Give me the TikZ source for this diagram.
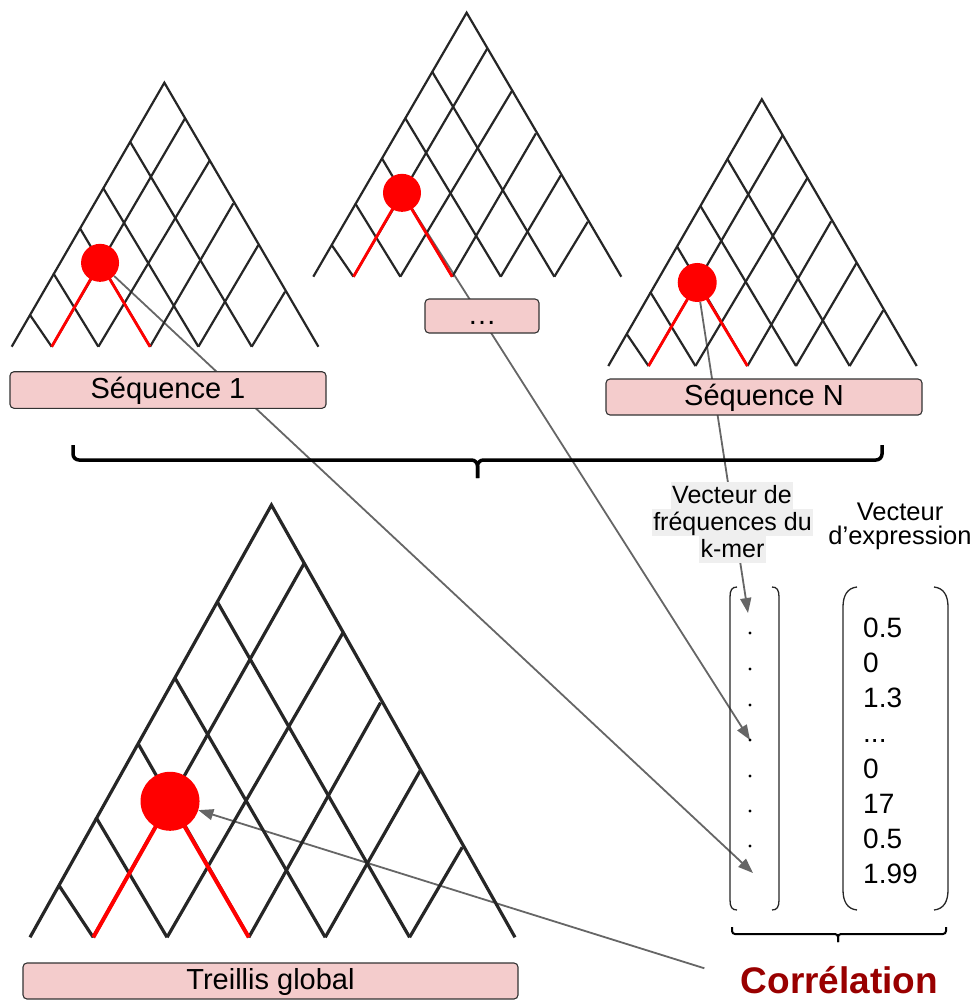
\documentclass[tikz,border=0pt]{standalone}
\usepackage{fontspec}
\setmainfont{Liberation Sans}
\usetikzlibrary{arrows.meta}
\pgfdeclarelayer{back}
\pgfsetlayers{back,main}
\definecolor{boxpink}{HTML}{F4CCCC}
\definecolor{labelgray}{HTML}{EFEFEF}
\definecolor{conngray}{HTML}{666666}
\definecolor{corrred}{HTML}{990000}
\definecolor{latblack}{HTML}{262626}
\newcommand{\drawlattice}[8]{%
\begin{scope}[shift={(#2,#3)}, xscale=#4, yscale=-#5]
 \draw[line width=#6, latblack] (0,0) -- (0.4978,1) -- (1,0);
 \draw[line width=#6, latblack] (0.3859,0.7765) -- (0.7826,0);
 \draw[line width=#6, latblack] (0.2989,0.5997) -- (0.6087,0);
 \draw[line width=#6, latblack] (0.2228,0.4482) -- (0.4511,0);
 \draw[line width=#6, latblack] (0.1359,0.2778) -- (0.2826,0);
 \draw[line width=#6, latblack] (0.0598,0.1199) -- (0.1304,0);
 \draw[line width=#6, latblack] (0.5652,0.8649) -- (0.1304,0);
 \draw[line width=#6, latblack] (0.6467,0.7071) -- (0.2826,0);
 \draw[line width=#6, latblack] (0.7228,0.5429) -- (0.4511,0);
 \draw[line width=#6, latblack] (0.8043,0.3851) -- (0.6087,0);
 \draw[line width=#6, latblack] (0.8913,0.2083) -- (0.7826,0);
 \coordinate (#1pos) at (0.289,0.318);
 \draw[line width=#7, red] (0.1304,0) -- (#1pos) -- (0.4511,0);
 \node[circle, fill=red, inner sep=0pt, minimum size=#8] (#1) at (#1pos) {};
\end{scope}}
\tikzset{
 seqbox/.style={draw=black!80, fill=boxpink, line width=1.1pt, rounded corners=4pt, inner sep=0pt, text height=21pt, text depth=5pt, font=\fontsize{29}{34}\selectfont},
 conn/.style={draw=conngray, line width=1.8pt, -{Triangle[length=15pt,width=11pt]}},
 veclabel/.style={fill=labelgray, inner xsep=1.5pt, inner ysep=0pt, text height=21pt, text depth=6pt, font=\fontsize{25}{27}\selectfont, anchor=base},
 plainlabel/.style={inner sep=0pt, font=\fontsize{25.5}{24}\selectfont, anchor=base},
 vecnum/.style={inner sep=0pt, font=\fontsize{28}{34}\selectfont, anchor=base west},
 parenstyle/.style={draw=black!85, line width=1.3pt},
 bracestyle/.style={draw=black, line width=3.5pt, rounded corners=6pt},
 smallbrace/.style={draw=black, line width=2pt, rounded corners=3pt}
}
\begin{document}
\begin{tikzpicture}[x=1pt,y=-1pt]
\useasboundingbox (0,0) rectangle (976,1000);
% lattices
\drawlattice{cA}{11.7}{346.7}{306.7}{264}{2.2pt}{2.8pt}{38pt}
\drawlattice{cB}{313.3}{276.7}{308}{264}{2.2pt}{2.8pt}{38pt}
\drawlattice{cC}{608.3}{366}{308.4}{266.7}{2.2pt}{2.8pt}{39pt}
\drawlattice{cD}{30}{937.3}{485}{432.3}{3.2pt}{4pt}{59pt}
% boxes
\node[seqbox, minimum width=316pt, minimum height=36.6pt] (s1) at (168,390) {Séquence 1};
\node[seqbox, minimum width=114pt, minimum height=34pt] (sdots) at (482,316) {…};
\node[seqbox, minimum width=316pt, minimum height=36pt] (sN) at (764,397) {Séquence N};
\node[seqbox, minimum width=495pt, minimum height=36pt] (tg) at (270.5,981) {Treillis global};
% brace
\draw[bracestyle] (73,445) -- (73,460) -- (477.5,460) -- (477.5,478);
\draw[bracestyle] (882,445) -- (882,460) -- (477.5,460) -- (477.5,478);
% labels
\node[veclabel] (k1) at (732,503) {Vecteur de};
\node[veclabel] (k2) at (732.5,530) {fréquences du};
\node[veclabel] (k3) at (732.5,557) {k-mer};
\node[plainlabel] (x1) at (900,520) {Vecteur};
\node[plainlabel] (x2) at (900,544) {d’expression};
% vectors
\draw[parenstyle] (737,587) .. controls (732,587) and (730,590) .. (730,597) -- (730,900) .. controls (730,907) and (732,910) .. (737,910);
\draw[parenstyle] (772,587) .. controls (777,587) and (779,590) .. (779,597) -- (779,900) .. controls (779,907) and (777,910) .. (772,910);
\draw[parenstyle] (857,587) .. controls (847,588) and (843,596) .. (843,607) -- (843,890) .. controls (843,901) and (847,909) .. (857,910);
\draw[parenstyle] (934,587) .. controls (944,588) and (948,596) .. (948,607) -- (948,890) .. controls (948,901) and (944,909) .. (934,910);
\foreach \yy in {633,669,705,740,776,811,846} \fill (750,\yy) circle (1.7pt);
\node[vecnum] (v1) at (863,637) {0.5};
\node[vecnum] (v2) at (863,672) {0};
\node[vecnum] (v3) at (863,707) {1.3};
\node[vecnum] (v4) at (863,742.5) {...};
\node[vecnum] (v5) at (863,778) {0};
\node[vecnum] (v6) at (863,813) {17};
\node[vecnum] (v7) at (863,848) {0.5};
\node[vecnum] (v8) at (863,883) {1.99};
\draw[smallbrace] (732,927) -- (732,934) -- (838,934) -- (838,942);
\draw[smallbrace] (946,927) -- (946,934) -- (838,934) -- (838,942);
\node[inner sep=0pt, font=\bfseries\fontsize{37}{40}\selectfont, text=corrred, anchor=base] (corr) at (839.5,993) {Corrélation};
% arrow end points
\coordinate (e1) at (753,873);
\coordinate (e2) at (750,740);
\coordinate (e3) at (748,613);
\begin{pgfonlayer}{back}
\draw[conn] (cA) -- (e1);
\draw[conn] (cB) -- (e2);
\draw[conn] (cC) -- (e3);
\draw[conn, shorten <=38pt] (corr.west) -- (cD);
\end{pgfonlayer}
\end{tikzpicture}
\end{document}
